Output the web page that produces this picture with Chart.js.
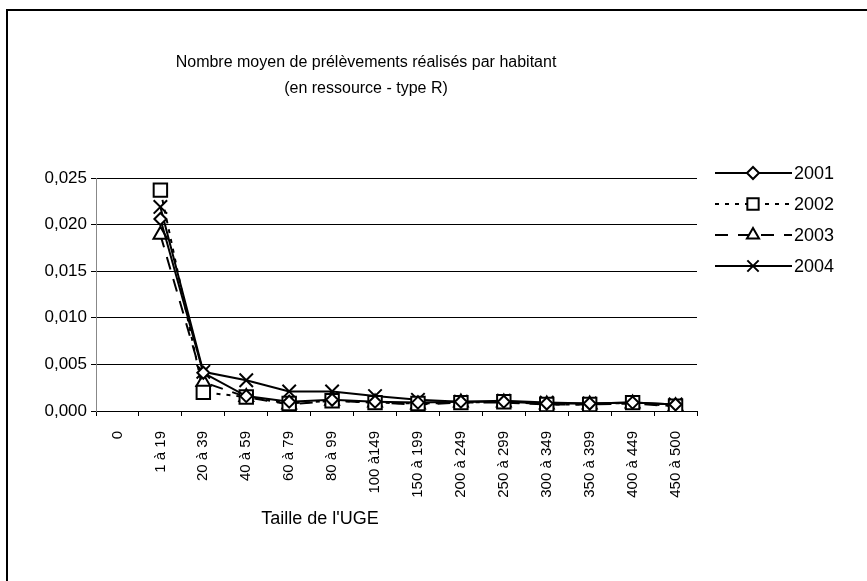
<!DOCTYPE html>
<html>
<head>
<meta charset="utf-8">
<script src="https://cdn.jsdelivr.net/npm/chart.js@4"></script>
<style>
  html, body { margin: 0; padding: 0; background: #fff; overflow: hidden; }
  #wrap { position: relative; width: 867px; height: 581px; }
  #frame { position: absolute; left: 6px; top: 9px; width: 900px; height: 700px; border: 2px solid #000; box-sizing: border-box; pointer-events: none; }
  canvas { position: absolute; left: 0; top: 0; }
</style>
</head>
<body>
<div id="wrap">
  <canvas id="c" width="867" height="581"></canvas>
  <div id="frame"></div>
</div>
<script>
const categories = ["0", "1 à 19", "20 à 39", "40 à 59", "60 à 79", "80 à 99", "100 à149",
  "150 à 199", "200 à 249", "250 à 299", "300 à 349", "350 à 399", "400 à 449", "450 à 500"];
const series2001 = [null, 0.0206, 0.0041, 0.0016, 0.0010, 0.0012, 0.0010, 0.0009, 0.0010, 0.0010, 0.0008, 0.0008, 0.0009, 0.0007];
const series2002 = [null, 0.0237, 0.0020, 0.0015, 0.0008, 0.0011, 0.0009, 0.0008, 0.0009, 0.0010, 0.0007, 0.0007, 0.0009, 0.0005];
const series2003 = [null, 0.0189, 0.0031, 0.0015, 0.0007, 0.0011, 0.0009, 0.0007, 0.0009, 0.0009, 0.0007, 0.0007, 0.0008, 0.0005];
const series2004 = [null, 0.0219, 0.0042, 0.0033, 0.0021, 0.0021, 0.0016, 0.0012, 0.0010, 0.0011, 0.0009, 0.0008, 0.0009, 0.0007];
const seriesNames = ["2001", "2002", "2003", "2004"];
const yTicks = [0, 0.005, 0.010, 0.015, 0.020, 0.025];
const titleLines = ["Nombre moyen de prélèvements réalisés par habitant", "(en ressource - type R)"];
const xTitle = "Taille de l'UGE";

const FONT = "'Liberation Sans', Arial, sans-serif";

function ds(label, data, pointStyle, radius, dash) {
  return {
    label, data, pointStyle,
    borderColor: '#000', backgroundColor: '#fff',
    borderWidth: 2, borderDash: dash,
    pointRadius: radius, pointHoverRadius: radius,
    pointBorderWidth: 2, pointBorderColor: '#000', pointBackgroundColor: '#fff',
    tension: 0, spanGaps: false
  };
}

const datasets = [
  ds(seriesNames[0], series2001, 'rectRot', 6, []),
  ds(seriesNames[1], series2002, 'rect', 9.5, [4, 6]),
  ds(seriesNames[2], series2003, 'triangle', 8, [13, 10]),
  ds(seriesNames[3], series2004, 'crossRot', 9.5, [])
];

const decorPlugin = {
  id: 'decor',
  afterDraw(chart) {
    const ctx = chart.ctx;
    ctx.save();
    ctx.fillStyle = '#000';
    ctx.textAlign = 'center';
    ctx.textBaseline = 'middle';
    ctx.font = '16px ' + FONT;
    ctx.fillText(titleLines[0], 366, 63);
    ctx.fillText(titleLines[1], 366, 89);
    ctx.font = '18px ' + FONT;
    ctx.fillText(xTitle, 320, 519);

    // legend
    const rows = [173, 204, 235, 266];
    chart.data.datasets.forEach((d, i) => {
      const y = rows[i];
      ctx.save();
      ctx.strokeStyle = '#000';
      ctx.lineWidth = 2;
      ctx.setLineDash(d.borderDash || []);
      ctx.beginPath();
      ctx.moveTo(715, y);
      ctx.lineTo(792, y);
      ctx.stroke();
      ctx.restore();
      ctx.save();
      ctx.strokeStyle = '#000';
      ctx.fillStyle = '#fff';
      ctx.lineWidth = 2;
      ctx.setLineDash([]);
      const r = d.pointStyle === 'rect' ? 8 : (d.pointStyle === 'crossRot' ? 8 : (d.pointStyle === 'triangle' ? 7 : 6));
      Chart.helpers.drawPoint(ctx, { pointStyle: d.pointStyle, rotation: 0, radius: r, borderWidth: 2 }, 753, y);
      ctx.restore();
      ctx.fillStyle = '#000';
      ctx.textAlign = 'left';
      ctx.textBaseline = 'middle';
      ctx.font = '18px ' + FONT;
      ctx.fillText(d.label, 794, y + 1);
    });
    ctx.restore();
  }
};

new Chart(document.getElementById('c'), {
  type: 'line',
  data: { labels: categories, datasets },
  options: {
    responsive: false,
    animation: false,
    devicePixelRatio: 1,
    layout: { padding: { top: 178, right: 170, left: 0, bottom: 0 } },
    plugins: { legend: { display: false }, title: { display: false }, tooltip: { enabled: false } },
    scales: {
      x: {
        type: 'category',
        offset: true,
        grid: { display: true, drawOnChartArea: false, drawTicks: true, tickLength: 5, offset: true, color: '#000', lineWidth: 1 },
        border: { display: true, color: '#000', width: 1 },
        ticks: { color: '#000', font: { family: FONT, size: 15 }, minRotation: 90, maxRotation: 90, padding: 15, autoSkip: false },
        afterFit(scale) { scale.height = 170; }
      },
      y: {
        min: 0, max: 0.025,
        afterBuildTicks(scale) { scale.ticks = yTicks.map(v => ({ value: v })); },
        grid: { color: '#000', lineWidth: 1, drawTicks: true, tickLength: 5 },
        border: { display: true, color: '#888', width: 1 },
        ticks: { color: '#000', font: { family: FONT, size: 17 }, padding: 4,
          callback: v => Number(v).toFixed(3).replace('.', ',') },
        afterFit(scale) { scale.width = 96; }
      }
    }
  },
  plugins: [decorPlugin]
});
</script>
</body>
</html>
